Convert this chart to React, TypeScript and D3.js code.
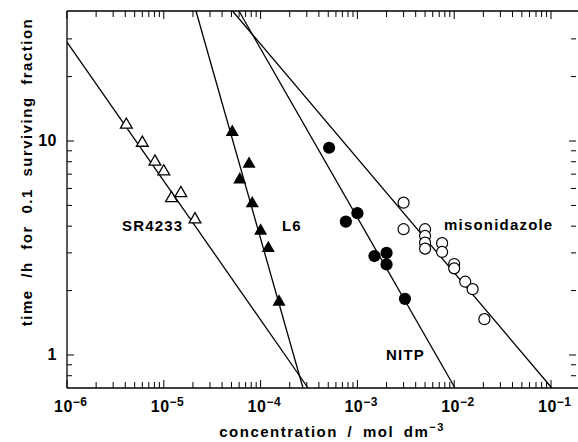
import * as d3 from "d3";

// concentration (mol dm-3) vs time (h) for 0.1 surviving fraction
const sr4233Conc = [4.1e-6, 6.0e-6, 8.1e-6, 1.0e-5, 1.2e-5, 1.5e-5, 2.1e-5];
const sr4233Time = [11.9, 9.8, 8.0, 7.2, 5.4, 5.7, 4.3];

const l6Conc = [5.1e-5, 7.6e-5, 6.1e-5, 8.2e-5, 1.0e-4, 1.2e-4, 1.55e-4];
const l6Time = [11.0, 7.8, 6.6, 5.1, 3.8, 3.15, 1.77];

const nitpConc = [5.1e-4, 1.0e-3, 7.6e-4, 1.5e-3, 2.0e-3, 2.0e-3, 3.1e-3];
const nitpTime = [9.3, 4.6, 4.2, 2.9, 3.0, 2.65, 1.83];

const misoConc = [3.0e-3, 3.0e-3, 5.0e-3, 5.0e-3, 5.0e-3, 5.0e-3, 7.5e-3, 7.5e-3, 1.0e-2, 1.0e-2, 1.3e-2, 1.55e-2, 2.05e-2];
const misoTime = [5.15, 3.87, 3.87, 3.6, 3.35, 3.14, 3.33, 3.03, 2.66, 2.54, 2.2, 2.03, 1.47];

// fitted lines, given by their two end points [conc, time]
const sr4233Fit: [number, number][] = [[1e-6, 29.0], [3.09e-4, 0.701]];
const l6Fit: [number, number][] = [[2.15e-5, 40.5], [2.74e-4, 0.701]];
const nitpFit: [number, number][] = [[5.98e-5, 40.5], [1.02e-2, 0.701]];
const misoFit: [number, number][] = [[5.13e-5, 40.5], [0.102, 0.701]];

const xLabelExps = [-6, -5, -4, -3, -2, -1];
const yLabelVals = [1, 10];

const W = 578;
const H = 442;
const left = 67;
const top = 11;
const bottom = 388;
const right = 578;

const font = "'Liberation Sans', Arial, Helvetica, sans-serif";

export default function App() {
  const x = d3.scaleLog().domain([1e-6, 1e-1]).range([left, 551]);
  const y = d3.scaleLog().domain([0.701, 40.5]).range([bottom, top]);

  const line = d3
    .line<[number, number]>()
    .x((d) => x(d[0]))
    .y((d) => y(d[1]));

  const triOpen = d3.symbol(d3.symbolTriangle, 60)();
  const triFilled = d3.symbol(d3.symbolTriangle, 74)();

  const xTicks = x.ticks();
  const yTicks = y.ticks().filter((v) => v <= 35);
  const isMajor = (v: number) => Math.abs(Math.log10(v) - Math.round(Math.log10(v))) < 1e-6;

  const labelStyle = { fontFamily: font, fontWeight: 700, fontSize: 15, letterSpacing: 1.2 };

  return (
    <svg
      width={W}
      height={H}
      style={{ position: "absolute", left: 0, top: 0, background: "#fff" }}
    >
      {/* frame */}
      <g stroke="#000" strokeWidth={1.3} fill="none">
        <line x1={left} y1={top} x2={right} y2={top} />
        <line x1={left} y1={bottom} x2={right} y2={bottom} />
        <line x1={left} y1={top} x2={left} y2={bottom} />
      </g>

      {/* ticks pointing inward */}
      <g stroke="#000" strokeWidth={1}>
        {xTicks.map((t, i) => {
          const len = isMajor(t) ? 8 : 6;
          return (
            <g key={i}>
              <line x1={x(t)} x2={x(t)} y1={bottom} y2={bottom - len} />
              <line x1={x(t)} x2={x(t)} y1={top} y2={top + len} />
            </g>
          );
        })}
        {yTicks.map((t, i) => {
          const len = isMajor(t) ? 7 : 5;
          return (
            <g key={i}>
              <line x1={left} x2={left + len} y1={y(t)} y2={y(t)} />
              <line x1={576} x2={576 - len} y1={y(t)} y2={y(t)} />
            </g>
          );
        })}
      </g>

      {/* x tick labels */}
      {xLabelExps.map((e) => (
        <text
          key={e}
          x={x(Math.pow(10, e)) - 13}
          y={412}
          style={{ fontFamily: font, fontWeight: 700, fontSize: 16, letterSpacing: 0.5 }}
        >
          10
          <tspan dy={-6} style={{ fontSize: 12 }}>
            {"\u2212" + Math.abs(e)}
          </tspan>
        </text>
      ))}

      {/* y tick labels */}
      {yLabelVals.map((v) => (
        <text
          key={v}
          x={57}
          y={y(v) + 5.5}
          textAnchor="end"
          style={{ fontFamily: font, fontWeight: 700, fontSize: 16, letterSpacing: 0.5 }}
        >
          {v}
        </text>
      ))}

      {/* axis titles */}
      <text
        x={332}
        y={437}
        textAnchor="middle"
        style={{ ...labelStyle, letterSpacing: 1.5, wordSpacing: 4 }}
      >
        concentration / mol dm
        <tspan dy={-6} style={{ fontSize: 11 }}>
          {"\u22123"}
        </tspan>
      </text>
      <text
        transform="translate(32,172) rotate(-90)"
        textAnchor="middle"
        style={{ ...labelStyle, letterSpacing: 1.5, wordSpacing: 6 }}
      >
        time /h for 0.1 surviving fraction
      </text>

      {/* fitted lines */}
      <g stroke="#000" strokeWidth={1.3} fill="none">
        {[sr4233Fit, l6Fit, nitpFit, misoFit].map((f, i) => (
          <path key={i} d={line(f) || ""} />
        ))}
      </g>

      {/* SR4233 open triangles */}
      {sr4233Conc.map((c, i) => (
        <path
          key={"s" + i}
          d={triOpen || ""}
          transform={`translate(${x(c)},${y(sr4233Time[i])})`}
          fill="#fff"
          stroke="#000"
          strokeWidth={1.3}
        />
      ))}

      {/* L6 filled triangles */}
      {l6Conc.map((c, i) => (
        <path
          key={"l" + i}
          d={triFilled || ""}
          transform={`translate(${x(c)},${y(l6Time[i])})`}
          fill="#000"
        />
      ))}

      {/* NITP filled circles */}
      {nitpConc.map((c, i) => (
        <circle key={"n" + i} cx={x(c)} cy={y(nitpTime[i])} r={6.1} fill="#000" />
      ))}

      {/* misonidazole open circles */}
      {misoConc.map((c, i) => (
        <circle
          key={"m" + i}
          cx={x(c)}
          cy={y(misoTime[i])}
          r={5.5}
          fill="#fff"
          stroke="#000"
          strokeWidth={1.2}
        />
      ))}

      {/* series labels */}
      <text x={122} y={231} style={labelStyle}>SR4233</text>
      <text x={282} y={231} style={labelStyle}>L6</text>
      <text x={386} y={360} style={labelStyle}>NITP</text>
      <text x={444} y={230} style={labelStyle}>misonidazole</text>
    </svg>
  );
}
